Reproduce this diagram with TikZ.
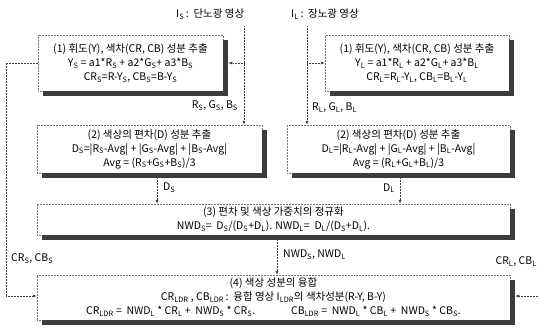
\documentclass[tikz,border=0pt]{standalone}
\usepackage{fontspec}
\setmainfont{Noto Sans CJK KR}
\usetikzlibrary{arrows.meta,calc}
\newcommand\sbs[1]{\textsubscript{#1}}
\definecolor{shadowgray}{RGB}{60,60,60}
\begin{document}
\begin{tikzpicture}[x=1pt,y=-1pt,
  every node/.style={font=\fontsize{10.5}{14}\selectfont, text=black},
  pbox/.style={draw=black!55, densely dotted, line width=0.5pt, fill=white, align=center, inner sep=0pt},
  shs/.style={draw=shadowgray, line width=5pt, line cap=butt, solid},
  conn/.style={densely dotted, line width=0.5pt, draw=black!75, -{Latex[length=4pt,width=3pt]}},
  line/.style={densely dotted, line width=0.5pt, draw=black!75},
  lbl/.style={inner sep=1pt}]
\useasboundingbox (0,0) rectangle (539,335);

% boxes
\node[pbox, minimum width=185pt, minimum height=56pt] (b1l) at (130.5,63)
 {(1) 휘도(Y), 색차(CR, CB) 성분 추출\\
  Y\sbs{S} = a1*R\sbs{S} + a2*G\sbs{S}+ a3*B\sbs{S}\\
  CR\sbs{S}=R-Y\sbs{S}, CB\sbs{S}=B-Y\sbs{S}};
\node[pbox, minimum width=184pt, minimum height=56pt] (b1r) at (417,63)
 {(1) 휘도(Y), 색차(CR, CB) 성분 추출\\
  Y\sbs{L} = a1*R\sbs{L} + a2*G\sbs{L}+ a3*B\sbs{L}\\
  CR\sbs{L}=R\sbs{L}-Y\sbs{L}, CB\sbs{L}=B\sbs{L}-Y\sbs{L}};
\node[pbox, minimum width=225pt, minimum height=48pt] (b2l) at (149.5,149)
 {(2) 색상의 편차(D) 성분 추출\\
  D\sbs{S}=|R\sbs{S}-Avg| + |G\sbs{S}-Avg| + |B\sbs{S}-Avg|\\
  Avg = (R\sbs{S}+G\sbs{S}+B\sbs{S})/3};
\node[pbox, minimum width=223pt, minimum height=48pt] (b2r) at (398.5,149)
 {(2) 색상의 편차(D) 성분 추출\\
  D\sbs{L}=|R\sbs{L}-Avg| + |G\sbs{L}-Avg| + |B\sbs{L}-Avg|\\
  Avg = (R\sbs{L}+G\sbs{L}+B\sbs{L})/3};
\node[pbox, minimum width=473pt, minimum height=31pt] (b3) at (273.5,219.5)
 {(3) 편차 및 색상 가중치의 정규화\\
  NWD\sbs{S}=\ \ D\sbs{S}/(D\sbs{S}+D\sbs{L}). NWD\sbs{L}=\ \ D\sbs{L}/(D\sbs{S}+D\sbs{L}).};
\node[pbox, minimum width=473pt, minimum height=45pt] (b4) at (273.5,297.5)
 {(4) 색상 성분의 융합\\
  CR\sbs{LDR} , CB\sbs{LDR}\,:\ \ 융합 영상 I\sbs{LDR}의 색차성분(R-Y, B-Y)\\
  CR\sbs{LDR} =\ \ NWD\sbs{L} * CR\sbs{L} +\ \ NWD\sbs{S} * CR\sbs{S}.\hspace{36pt}CB\sbs{LDR} =\ \ NWD\sbs{L} * CB\sbs{L} +\ \ NWD\sbs{S} * CB\sbs{S}.};

% shadows as thick strokes along right and bottom edges
\foreach \nm in {b1l,b1r,b2l,b2r,b3,b4}{
  \draw[shs] ($(\nm.north east)+(2.5,5)$) -- ($(\nm.south east)+(2.5,5)$);
  \draw[shs] ($(\nm.south west)+(5,2.5)$) -- ($(\nm.south east)+(5,2.5)$);
}

% top labels
\node[lbl, anchor=west] (is) at (175,14) {I\sbs{S}\,:\ \ 단노광 영상};
\node[lbl, anchor=west] (il) at (290,14) {I\sbs{L}\,:\ \ 장노광 영상};

% I_S line
\coordinate (isT) at (244,26);
\coordinate (isJ) at (244,63);
\draw[conn] (isT) -- (isT |- b2l.north);
\draw[conn] (isJ) -- ($(b1l.east)+(5,0)$);
\node[lbl, anchor=east] (rgbs) at (239,106) {R\sbs{S}, G\sbs{S}, B\sbs{S}};

% I_L line
\coordinate (ilT) at (307,26);
\coordinate (ilJ) at (307,63);
\draw[conn] (ilT) -- (ilT |- b2r.north);
\draw[conn] (ilJ) -- (b1r.west);
\node[lbl, anchor=west] (rgbl) at (311,108) {R\sbs{L}, G\sbs{L}, B\sbs{L}};

% D arrows
\coordinate (dsT) at (157,178);
\draw[conn] (dsT) -- (dsT |- b3.north);
\node[lbl, anchor=west] (dsl) at (162,188) {D\sbs{S}};
\coordinate (dlT) at (400,178);
\draw[conn] (dlT) -- (dlT |- b3.north);
\node[lbl, anchor=east] (dll) at (396,188) {D\sbs{L}};

% NWD arrow
\coordinate (nwT) at (277,240);
\draw[conn] (nwT) -- (nwT |- b4.north);
\node[lbl, anchor=west] (nwl) at (282,255) {NWD\sbs{S}, NWD\sbs{L}};

% left feedback
\coordinate (lfA) at (6,63);
\coordinate (lfB) at (6,296);
\draw[line] (b1l.west) -- (lfA) -- (lfB);
\draw[conn] (lfB) -- (b4.west |- lfB);
\node[lbl, anchor=west] (crs) at (10,259) {CR\sbs{S}, CB\sbs{S}};

% right stub
\coordinate (rs) at (539,296);
\draw[conn] (rs) -- ($(b4.east |- rs)+(5,0)$);
\node[lbl, anchor=east] (crl) at (538,262) {CR\sbs{L}, CB\sbs{L}};
\end{tikzpicture}
\end{document}
